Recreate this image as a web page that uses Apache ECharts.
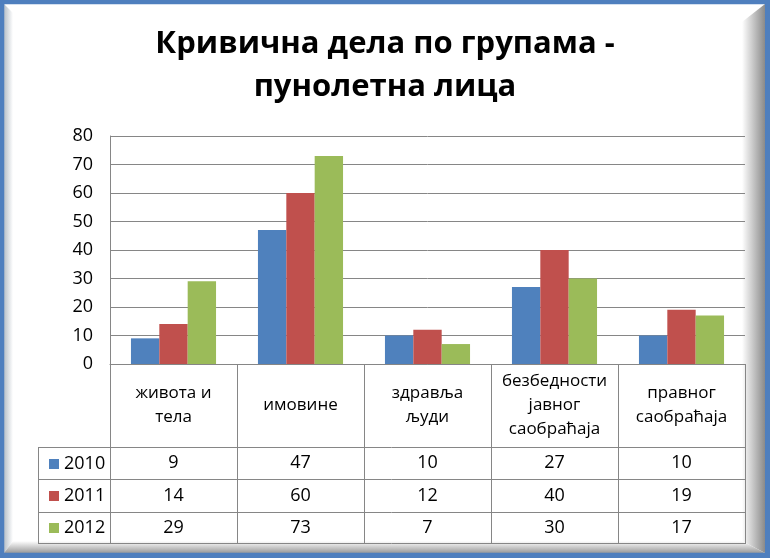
<!DOCTYPE html>
<html><head><meta charset="utf-8">
<script src="https://cdn.jsdelivr.net/npm/echarts@6/dist/echarts.min.js"></script>
<style>html,body{margin:0;padding:0;background:#fff}#c{width:770px;height:558px}</style>
</head><body><div id="c"></div>
<script>
const titleText = "Кривична дела по групама -\nпунолетна лица";
const categories = ["живота и\nтела", "имовине", "здравља\nљуди", "безбедности\nјавног\nсаобраћаја", "правног\nсаобраћаја"];
const seriesNames = ["2010", "2011", "2012"];
const values2010 = [9, 47, 10, 27, 10];
const values2011 = [14, 60, 12, 40, 19];
const values2012 = [29, 73, 7, 30, 17];
const yTicks = [0, 10, 20, 30, 40, 50, 60, 70, 80];

const allValues = [values2010, values2011, values2012];
const colors = ["#4f81bd", "#c0504d", "#9bbb59"];
const FONT = "Open Sans";
const chart = echarts.init(document.getElementById('c'), null, {renderer: 'canvas'});

const rowMargins = [99, 132, 164];
const xAxes = [{
  type: 'category', data: categories, gridIndex: 0, position: 'bottom',
  axisLine: {lineStyle: {color: '#868686', width: 1}},
  axisTick: {show: true, interval: 0, length: 180, lineStyle: {color: '#868686'}},
  axisLabel: {interval: 0, margin: 41, verticalAlign: 'middle', color: '#000', fontFamily: FONT, fontSize: 17, lineHeight: 24, align: 'center'}
}];
allValues.forEach((vals, i) => {
  xAxes.push({
    type: 'category', data: vals.map(String), gridIndex: 0, position: 'bottom',
    axisLine: {show: false}, axisTick: {show: false},
    axisLabel: {interval: 0, margin: rowMargins[i], verticalAlign: 'middle', color: '#000', fontFamily: FONT, fontSize: 18}
  });
});

const lineStyle = {stroke: '#868686', lineWidth: 1};
const tableLines = [
  {type: 'line', shape: {x1: 38, y1: 447.5, x2: 745, y2: 447.5}, style: lineStyle},
  {type: 'line', shape: {x1: 38, y1: 479.5, x2: 745, y2: 479.5}, style: lineStyle},
  {type: 'line', shape: {x1: 38, y1: 512.5, x2: 745, y2: 512.5}, style: lineStyle},
  {type: 'line', shape: {x1: 38, y1: 543.5, x2: 745, y2: 543.5}, style: lineStyle},
  {type: 'line', shape: {x1: 38.5, y1: 447, x2: 38.5, y2: 544}, style: lineStyle}
];

const frame = [
  {type: 'polygon', z: -10, shape: {points: [[4,4],[13,13],[13,541],[4,553]]},
   style: {fill: new echarts.graphic.LinearGradient(0,0,1,0,[{offset:0,color:'#b8c0c8'},{offset:1,color:'#ffffff'}])}},
  {type: 'polygon', z: -10, shape: {points: [[742,22],[765,4],[765,553],[742,541]]},
   style: {fill: new echarts.graphic.LinearGradient(0,0,1,0,[{offset:0,color:'#ffffff'},{offset:1,color:'#8a8a8a'}])}},
  {type: 'polygon', z: -9, shape: {points: [[13,541],[742,541],[765,553],[4,553]]},
   style: {fill: new echarts.graphic.LinearGradient(0,0,0,1,[{offset:0,color:'#ffffff'},{offset:1,color:'#9a9a9a'}])}},
  {type: 'rect', z: -5, shape: {x: 2, y: 2, width: 765.5, height: 553}, style: {fill: 'none', stroke: '#4f7fbe', lineWidth: 4.5}},
  {type: 'rect', z: -5, shape: {x: 765, y: 0, width: 5, height: 558}, style: {fill: '#4f7fbe'}},
  {type: 'rect', z: -5, shape: {x: 0, y: 553, width: 770, height: 5}, style: {fill: '#4f7fbe'}}
];

chart.setOption({
  backgroundColor: '#ffffff',
  animation: false,
  color: colors,
  title: {
    text: titleText, left: 'center', top: 18,
    textStyle: {fontFamily: FONT, fontWeight: 'bold', fontSize: 31, lineHeight: 43, color: '#000'}
  },
  legend: {
    data: seriesNames, orient: 'vertical', left: 44, top: 449,
    icon: 'rect', itemWidth: 10, itemHeight: 10, itemGap: 12,
    textStyle: {fontFamily: FONT, fontSize: 18, color: '#000', lineHeight: 20},
    selectedMode: false
  },
  grid: {left: 110, right: 25, top: 136, bottom: 194, containLabel: false},
  xAxis: xAxes,
  yAxis: {
    type: 'value', min: yTicks[0], max: yTicks[yTicks.length - 1], interval: 10,
    axisLine: {show: true, lineStyle: {color: '#868686'}},
    axisTick: {show: false},
    splitLine: {lineStyle: {color: '#868686', width: 1}},
    axisLabel: {margin: 17, color: '#000', fontFamily: FONT, fontSize: 18}
  },
  series: seriesNames.map((n, i) => ({
    name: n, type: 'bar', data: allValues[i], xAxisIndex: 0,
    barGap: '0%', barCategoryGap: '33%',
    itemStyle: {color: colors[i]}
  })),
  graphic: frame.concat(tableLines)
});
</script></body></html>
